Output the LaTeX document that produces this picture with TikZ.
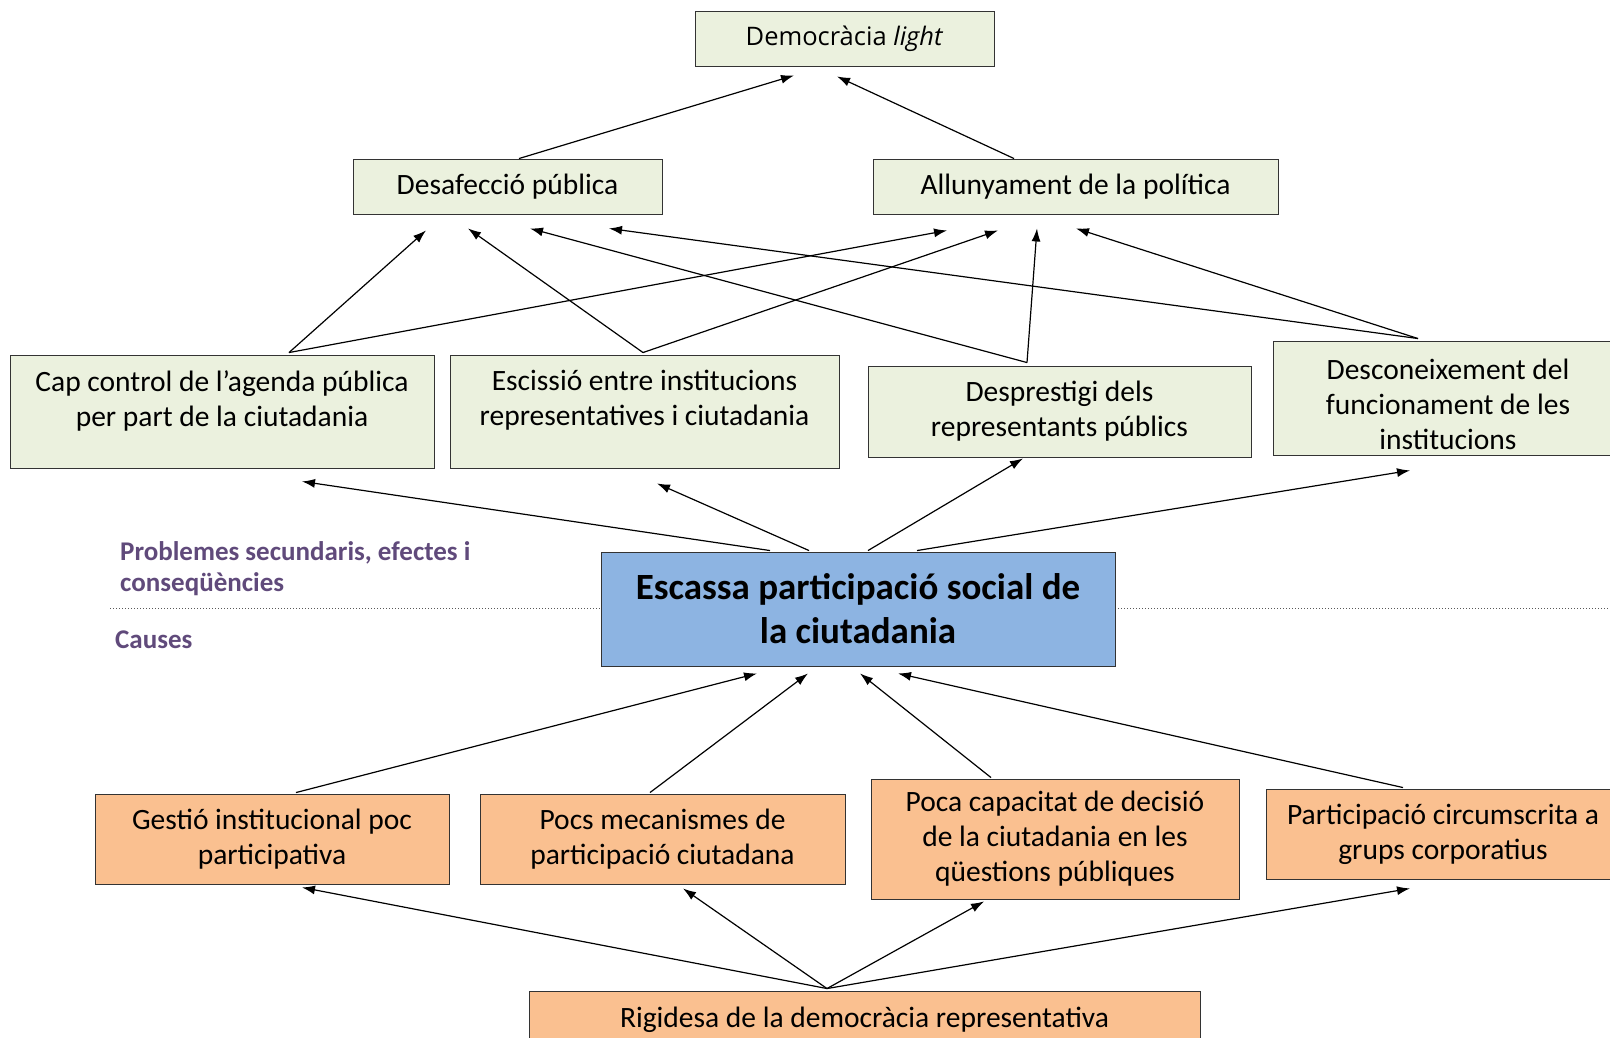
\documentclass[tikz,border=0pt]{standalone}
\usepackage{fontspec}
\setmainfont{Carlito}
\newfontfamily\osans{Open Sans}
\usetikzlibrary{arrows.meta}
\definecolor{gfill}{HTML}{EBF1DE}
\definecolor{ofill}{HTML}{FAC090}
\definecolor{bfill}{HTML}{8DB4E2}
\definecolor{purp}{HTML}{604A7B}
\begin{document}
\begin{tikzpicture}[x=1pt,y=-1pt,
  basebox/.style={draw=black!80, line width=0.9pt, inner sep=0pt, align=center, font=\fontsize{29.5}{35}\selectfont},
  gbox/.style={basebox, fill=gfill},
  obox/.style={basebox, fill=ofill},
  bbox/.style={basebox, fill=bfill, font=\bfseries\fontsize{37}{44}\selectfont},
  txt/.style={inner sep=0pt, align=center, font=\fontsize{29.5}{35}\selectfont},
  lbl/.style={inner sep=0pt, align=left, text=purp, font=\bfseries\fontsize{27}{31}\selectfont},
  arr/.style={-{Latex[length=13pt,width=9pt]}, line width=1.2pt}]
\useasboundingbox (0,0) rectangle (1610,1038);
\clip (0,0) rectangle (1610,1038);
\fill[white] (0,0) rectangle (1610,1038);

% separator
\coordinate (dl1) at (110,608);
\coordinate (dl2) at (1610,608);
\draw[dotted, line width=1pt, black!65] (dl1) -- (dl2);

% top level
\node[gbox, minimum width=299pt, minimum height=55pt, font=\osans\fontsize{25.5}{30}\selectfont] (dem) at (844.5,38.5) {Democràcia \textit{light}};
\node[gbox, minimum width=309pt, minimum height=55pt] (desaf) at (507.5,186.5) {Desafecció pública};
\node[gbox, minimum width=405pt, minimum height=55pt] (allun) at (1075.5,186.5) {Allunyament de la política};

% effects
\node[gbox, minimum width=424pt, minimum height=113pt] (cap) at (222,411.5) {};
\node[txt] (capT) at ([shift={(0,-11)}]cap.center) {Cap control de l’agenda pública\\per part de la ciutadania};
\node[gbox, minimum width=389pt, minimum height=113pt] (esc) at (644.5,411.5) {};
\node[txt] (escT) at ([shift={(0,-11)}]esc.center) {Escissió entre institucions\\representatives i ciutadania};
\node[gbox, minimum width=383pt, minimum height=91pt] (desp) at (1059.5,411.5) {Desprestigi dels\\representants públics};
\node[gbox, minimum width=347pt, minimum height=114pt] (desc) at (1446.5,398) {};
\node[txt] (descT) at ([shift={(1.5,6)}]desc.center) {Desconeixement del\\funcionament de les\\institucions};

% central
\node[bbox, minimum width=514pt, minimum height=114pt] (esca) at (858,609) {Escassa participació social de\\la ciutadania};

% labels
\node[lbl, anchor=west] (lab1) at (120,568.5) {Problemes secundaris, efectes i\\conseqüències};
\node[lbl, anchor=west] (lab2) at (115,640) {Causes};

% causes
\node[obox, minimum width=354pt, minimum height=90pt] (gest) at (272,839) {Gestió institucional poc\\participativa};
\node[obox, minimum width=365pt, minimum height=90pt] (pocs) at (662.5,839) {Pocs mecanismes de\\participació ciutadana};
\node[obox, minimum width=368pt, minimum height=120pt] (poca) at (1055,839) {Poca capacitat de decisió\\de la ciutadania en les\\qüestions públiques};
\node[obox, minimum width=354pt, minimum height=90pt] (part) at (1443,834) {};
\node[txt] (partT) at (part.center) {Participació circumscrita a\\grups corporatius};
\node[obox, minimum width=671pt, minimum height=70pt] (rig) at (864.5,1026) {};
\node[txt] (rigT) at ([shift={(0,-6)}]rig.center) {Rigidesa de la democràcia representativa};

% arrows to top
\draw[arr] ([shift={(11.5,0)}]desaf.north) -- ([shift={(-50.5,9)}]dem.south);
\draw[arr] ([shift={(-61.5,0)}]allun.north) -- ([shift={(-7.5,10)}]dem.south);

\draw[arr] ([shift={(67,-2)}]cap.north) -- ([shift={(-81.5,16)}]desaf.south);
\draw[arr] ([shift={(67,-2)}]cap.north) -- ([shift={(-128.5,16)}]allun.south);
\draw[arr] ([shift={(-1.5,-2)}]esc.north) -- ([shift={(-39.5,14)}]desaf.south);
\draw[arr] ([shift={(-1.5,-2)}]esc.north) -- ([shift={(-77.5,16)}]allun.south);
\draw[arr] ([shift={(-32.5,-3)}]desp.north) -- ([shift={(22.5,14)}]desaf.south);
\draw[arr] ([shift={(-32.5,-3)}]desp.north) -- ([shift={(-38.5,14)}]allun.south);
\draw[arr] ([shift={(-28.5,-2)}]desc.north) -- ([shift={(101.5,14)}]desaf.south);
\draw[arr] ([shift={(-28.5,-2)}]desc.north) -- ([shift={(0.5,14)}]allun.south);

% from central to effects
\draw[arr] ([shift={(-88,-1)}]esca.north) -- ([shift={(80,13)}]cap.south);
\draw[arr] ([shift={(-49,-1)}]esca.north) -- ([shift={(12.5,15)}]esc.south);
\draw[arr] ([shift={(10,-1)}]esca.north) -- ([shift={(-36.5,1)}]desp.south);
\draw[arr] ([shift={(59,-1)}]esca.north) -- ([shift={(-36.5,15)}]desc.south);

% causes to central
\draw[arr] ([shift={(24,-1)}]gest.north) -- ([shift={(-101,7)}]esca.south);
\draw[arr] ([shift={(-12.5,-1)}]pocs.north) -- ([shift={(-50,7)}]esca.south);
\draw[arr] ([shift={(-64,-1)}]poca.north) -- ([shift={(2,7)}]esca.south);
\draw[arr] ([shift={(-40,-1)}]part.north) -- ([shift={(40,7)}]esca.south);

% rigidesa to causes
\draw[arr] ([shift={(-37.5,-2)}]rig.north) -- ([shift={(30,3)}]gest.south);
\draw[arr] ([shift={(-37.5,-2)}]rig.north) -- ([shift={(20.5,4)}]pocs.south);
\draw[arr] ([shift={(-37.5,-2)}]rig.north) -- ([shift={(-71,2)}]poca.south);
\draw[arr] ([shift={(-37.5,-2)}]rig.north) -- ([shift={(-33,9)}]part.south);
\end{tikzpicture}
\end{document}
